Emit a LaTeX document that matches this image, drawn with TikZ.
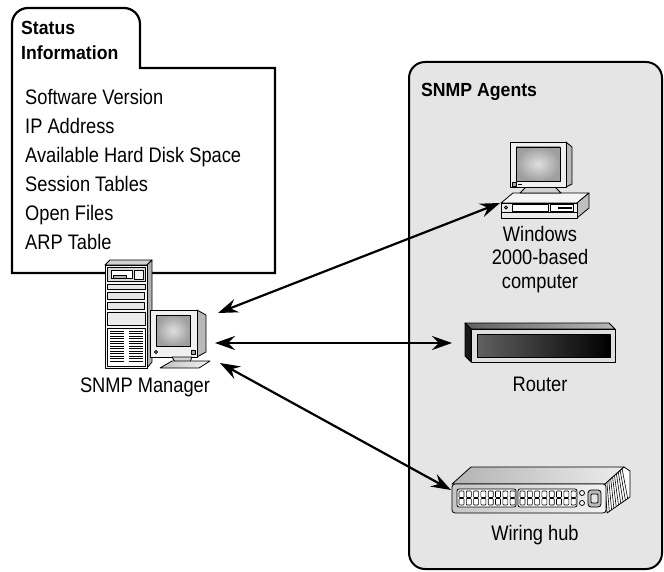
\documentclass[tikz,border=0pt]{standalone}
\usepackage{fontspec}
\setmainfont{Liberation Sans}[FakeStretch=0.87, BoldFeatures={FakeStretch=0.93}]
\usetikzlibrary{arrows.meta, calc}

\definecolor{agentfill}{gray}{0.9}

\tikzset{
  txt/.style={font=\fontsize{21}{23}\selectfont, inner sep=0pt},
  boxtitle/.style={font=\fontsize{19}{23}\selectfont\bfseries, inner sep=0pt, anchor=base west},
  icon/.style={draw=black, line width=0.8pt, line join=round},
  link/.style={line width=2.2pt,
    {Stealth[length=20pt,width=14pt,inset=7pt]}-{Stealth[length=20pt,width=14pt,inset=7pt]}},
}

\begin{document}
\begin{tikzpicture}[x=1pt, y=-1pt]
  \useasboundingbox (0,0) rectangle (664,572);

  % Agents panel
  \draw[line width=2pt, fill=agentfill, rounded corners=16] (409,62) rectangle (662,569);
  \node[boxtitle] (agents) at (421,97) {SNMP Agents};

  % Status folder
  \draw[line width=2.2pt, fill=white] (12,273) {[rounded corners=16] -- (12,8) -- (140,8) -- (140,40)}
    -- (140,68) -- (275,68) -- (275,273) -- cycle;
  \node[boxtitle] (status) at (21,35) {Status};
  \node[boxtitle] (information) at (21,60) {Information};
  \foreach \item [count=\i] in {Software Version, IP Address, Available Hard Disk Space,
                                Session Tables, Open Files, ARP Table}
    \node[txt, anchor=base west] (info\i) at (25,{105+29*(\i-1)}) {\item};

  % SNMP manager: tower
  \fill[icon, fill=gray!35] (105,265) -- (147,265) -- (152,260) -- (110,260) -- cycle;
  \fill[icon, fill=gray!60] (147,265) -- (152,260) -- (152,362) -- (147,368) -- cycle;
  \draw[icon, fill=gray!8] (105,265) rectangle (147,368);
  \draw[icon, fill=gray!30] (107,267) rectangle (145,281);
  \draw[icon, fill=white] (111,270) rectangle (132,278);
  \draw[icon, fill=gray!60] (113,275) rectangle (126,278);
  \draw[icon, fill=gray!10] (134,270) rectangle (143,279);
  \draw[icon, fill=gray!20] (107,284) rectangle (145,289);
  \draw[icon, fill=gray!20] (107,292) rectangle (144,299);
  \draw[icon, fill=gray!20] (107,302) rectangle (144,309);
  \draw[icon, fill=gray!15] (107,312) rectangle (145,325);
  \draw[icon, fill=white] (107,328) rectangle (145,366);
  \foreach \y in {331,333.5,...,363}
    \draw[line width=0.9pt] (110,\y) -- (124,\y) (129,\y) -- (143,\y);

  % SNMP manager: monitor
  \fill[icon, fill=gray!55] (197,310) -- (206,315) -- (206,352) -- (197,357) -- cycle;
  \draw[icon, fill=gray!12] (150,310) rectangle (197,357);
  \draw[icon, inner color=gray!25, outer color=gray!75] (156,315) rectangle (190,346);
  \draw[icon] (156,352) circle (1.5);
  \draw[icon, fill=gray!70] (191,350) rectangle (195,354);
  \draw[icon, fill=gray!35] (172,357) -- (192,357) -- (190,362) -- (175,362) -- cycle;
  \draw[icon, left color=gray!50, right color=gray!10] (160,368) -- (172,361) -- (210,361) -- (199,368) -- cycle;
  \node[txt, anchor=base] (manager) at (145,392) {SNMP Manager};

  % Windows computer: case
  \draw[icon, fill=gray!8] (501,203) -- (513,193) -- (589,193) -- (577,203) -- cycle;
  \draw[icon, fill=gray!50] (577,203) -- (589,193) -- (589,208) -- (577,218) -- cycle;
  \draw[icon, fill=gray!15] (501,203) rectangle (577,218);
  \draw[icon] (501,212) -- (577,212);
  \draw[icon] (506,207.5) circle (1.5);
  \draw[icon, fill=white] (512,204.5) rectangle (548,211);
  \draw[icon, fill=white] (550,204.5) rectangle (573,211);
  \fill[black] (558,207) rectangle (572,209);

  % Windows computer: monitor
  \draw[icon, fill=gray!35] (526,187) -- (555,187) -- (561,193) -- (520,193) -- cycle;
  \fill[icon, fill=gray!55] (566,142) -- (572,147) -- (572,184) -- (566,187) -- cycle;
  \draw[icon, fill=gray!12] (510,142) rectangle (566,187);
  \draw[icon, inner color=gray!25, outer color=gray!75] (516,147) rectangle (560,181);
  \draw[icon, fill=gray!70] (512,182.5) rectangle (516,186);
  \draw[icon] (518,184) -- (522,184);
  \node[txt, anchor=base] (pc1) at (540,242) {Windows};
  \node[txt, anchor=base] (pc2) at (540,265) {2000-based};
  \node[txt, anchor=base] (pc3) at (540,288) {computer};

  % Router
  \draw[icon, left color=gray!75!black, right color=gray!55] (465,323) -- (609,323) -- (615,329) -- (471,329) -- cycle;
  \draw[icon, fill=gray!20!black] (465,323) -- (471,329) -- (471,362) -- (465,356) -- cycle;
  \draw[icon, fill=gray!25] (471,329) rectangle (615,362);
  \draw[icon, left color=black!62, right color=black] (477,334) rectangle (610,357);
  \node[txt, anchor=base] (routerlabel) at (540,391) {Router};

  % Wiring hub
  \draw[icon, left color=gray!60, right color=gray!15] (452,484) -- (471,467) -- (624,467) -- (605,484) -- cycle;
  \draw[icon, fill=white] (605,484) -- (624,467) -- (630,471) -- (630,497) -- (607,513) -- cycle;
  \foreach \t in {0.1,0.2,...,0.95}
    \draw[line width=0.6pt] ($(605,484)!\t!(624,467)$) -- ($(607,513)!\t!(630,497)$);
  \draw[icon, left color=gray!45, right color=gray!10, rounded corners=3] (452,484) rectangle (606,513);
  \foreach \x in {457,518} {
    \draw[icon, fill=white, rounded corners=2] (\x,489) rectangle (\x+59,507);
    \foreach \k in {0,...,7}
      \draw[line width=0.6pt, fill=white, rounded corners=0.8]
        (\x+2+7.3*\k,491) rectangle (\x+7+7.3*\k,497.5)
        (\x+2+7.3*\k,498.5) rectangle (\x+7+7.3*\k,505);
  }
  \draw[icon, fill=white] (582,493) circle (2.5) (582,503) circle (2.5);
  \draw[icon, fill=gray!55, rounded corners=3] (588,490) rectangle (601,507);
  \draw[icon, fill=gray!20, rounded corners=1] (591,494) rectangle (598,503);
  \node[txt, anchor=base] (hublabel) at (535,540) {Wiring hub};

  % SNMP links
  \coordinate (mgr-pc) at (218,313);
  \coordinate (mgr-router) at (215,343);
  \coordinate (mgr-hub) at (220,363);
  \coordinate (pc-in) at (500,203);
  \coordinate (router-in) at (452,343);
  \coordinate (hub-in) at (451,490);
  \draw[link] (mgr-pc) -- (pc-in);
  \draw[link] (mgr-router) -- (router-in);
  \draw[link] (mgr-hub) -- (hub-in);
\end{tikzpicture}
\end{document}
